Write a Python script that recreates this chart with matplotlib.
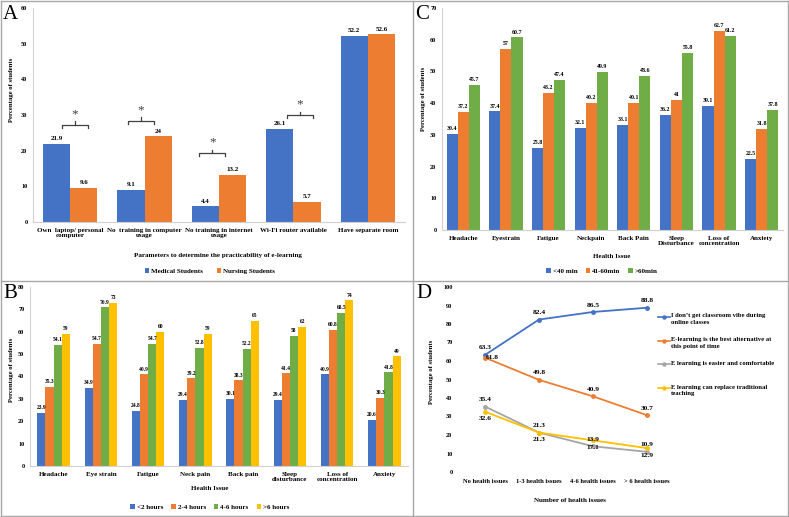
import matplotlib
matplotlib.use("Agg")
import matplotlib.pyplot as plt
from matplotlib.lines import Line2D
import numpy as np

plt.rcParams["font.family"] = ["Liberation Serif", "DejaVu Serif"]
plt.rcParams["font.weight"] = "bold"

BLUE = "#4472C4"
ORANGE = "#ED7D31"
GRAY = "#A5A5A5"
YELLOW = "#FFC000"
GREEN = "#70AD47"
AXIS = "#D0D0D0"

# Panel A
a_categories = ["Own  laptop/ personal\ncomputer", "No  training in computer\nusage",
                "No training in internet\nusage", "Wi-Fi router available", "Have separate room"]
a_medical = [21.9, 9.1, 4.4, 26.1, 52.2]
a_nursing = [9.6, 24, 13.2, 5.7, 52.6]

# Panel B
b_categories = ["Headache", "Eye strain", "Fatigue", "Neck pain", "Back pain",
                "Sleep\ndisturbance", "Loss of\nconcentration", "Anxiety"]
b_lt2 = [23.9, 34.9, 24.8, 29.4, 30.1, 29.4, 40.9, 20.6]
b_2to4 = [35.3, 54.7, 40.9, 39.2, 38.3, 41.4, 60.8, 30.3]
b_4to6 = [54.1, 70.9, 54.7, 52.8, 52.2, 58, 68.5, 41.8]
b_gt6 = [59, 73, 60, 59, 65, 62, 74, 49]

# Panel C
c_categories = ["Headache", "Eyestrain", "Fatigue", "Neckpain", "Back Pain",
                "Sleep\nDisturbance", "Loss of\nconcentration", "Anxiety"]
c_lt40 = [30.4, 37.4, 25.8, 32.1, 33.1, 36.2, 39.1, 22.5]
c_41to60 = [37.2, 57, 43.2, 40.2, 40.1, 41, 62.7, 31.8]
c_gt60 = [45.7, 60.7, 47.4, 49.9, 48.6, 55.8, 61.2, 37.8]

# Panel D
d_categories = ["No health issues", "1-3 health issues", "4-6 health issues", "> 6 health issues"]
d_vibe = [63.3, 82.4, 86.5, 88.8]
d_best = [61.8, 49.8, 40.9, 30.7]
d_easier = [35.4, 21.3, 13.9, 10.9]
d_replace = [32.6, 21.3, 17.1, 12.9]

W, H = 789, 517
fig = plt.figure(figsize=(W / 100, H / 100), dpi=100)


def px_axes(left, top, right, bottom):
    return fig.add_axes([left / W, 1 - bottom / H, (right - left) / W, (bottom - top) / H])


def fx(x):
    return x / W


def fy(y):
    return 1 - y / H


def style_bar_axes(ax, ymax, step):
    ax.set_ylim(0, ymax)
    ax.set_yticks(np.arange(0, ymax + 1, step))
    for s in ("top", "right"):
        ax.spines[s].set_visible(False)
    for s in ("left", "bottom"):
        ax.spines[s].set_color(AXIS)
        ax.spines[s].set_linewidth(0.8)
    ax.tick_params(length=0, labelsize=4.5, pad=4)
    ax.tick_params(axis="x", labelsize=5, pad=4)


def bar_group(ax, series, colors, labels, width, fs):
    n = len(series)
    x = np.arange(len(series[0]))
    for i, (vals, col, lab) in enumerate(zip(series, colors, labels)):
        off = (i - (n - 1) / 2) * width
        bars = ax.bar(x + off, vals, width=width, color=col, label=lab)
        for b, v in zip(bars, vals):
            ax.annotate(f"{v:g}", (b.get_x() + b.get_width() / 2, v), xytext=(0, 2),
                        textcoords="offset points", ha="center", va="bottom",
                        fontsize=fs, fontweight="bold")
    ax.set_xlim(-0.5, len(x) - 0.5)
    return x


# ---- Panel A
ax_a = px_axes(33, 8, 405, 222)
xa = bar_group(ax_a, [a_medical, a_nursing], [BLUE, ORANGE],
               ["Medical Students", "Nursing Students"], 0.365, 5)
style_bar_axes(ax_a, 60, 10)
ax_a.set_xticks(xa, a_categories, linespacing=1.1)

# significance brackets (group, centre offset, height)
brackets = [(0, 0.06, 27.3), (1, -0.05, 28.4), (2, -0.09, 19.4), (3, 0.09, 30.0)]
for g, off, h in brackets:
    cx = g + off
    hw = 0.175
    ax_a.plot([cx - hw, cx - hw, cx + hw, cx + hw], [h - 0.9, h, h, h - 0.9], color="#404040", lw=0.9)
    ax_a.plot([cx, cx], [h, h + 0.9], color="#404040", lw=0.9)
    ax_a.text(cx, h + 1.3, "*", ha="center", va="bottom", fontsize=9.5, fontweight="normal", color="#404040")

fig.text(fx(12), fy(90), "Percentage of students", rotation=90, ha="center", va="center", fontsize=4.8)
fig.text(fx(218), fy(255), "Parameters to determine the practicability of e-learning",
         ha="center", va="center", fontsize=5)
fig.legend(*ax_a.get_legend_handles_labels(), loc="center", bbox_to_anchor=(fx(210), fy(271)),
           ncols=2, frameon=False, fontsize=5, handlelength=0.6, handleheight=0.6,
           handletextpad=0.3, columnspacing=2.0)

# ---- Panel B
ax_b = px_axes(30, 287, 408, 466)
xb = bar_group(ax_b, [b_lt2, b_2to4, b_4to6, b_gt6], [BLUE, ORANGE, GREEN, YELLOW],
               ["<2 hours", "2-4 hours", "4-6 hours", ">6 hours"], 0.173, 4)
style_bar_axes(ax_b, 80, 10)
ax_b.set_xticks(xb, b_categories, linespacing=1.1)
fig.text(fx(11.5), fy(370), "Percentage of students", rotation=90, ha="center", va="center", fontsize=4.8)
fig.text(fx(210), fy(489), "Health Issue", ha="center", va="center", fontsize=5)
fig.legend(*ax_b.get_legend_handles_labels(), loc="center", bbox_to_anchor=(fx(210), fy(507)),
           ncols=4, frameon=False, fontsize=5, handlelength=0.6, handleheight=0.6,
           handletextpad=0.3, columnspacing=1.2)

# ---- Panel C
ax_c = px_axes(442, 8, 783, 230)
xc = bar_group(ax_c, [c_lt40, c_41to60, c_gt60], [BLUE, ORANGE, GREEN],
               ["<40 min", "41-60min", ">60min"], 0.26, 4.2)
style_bar_axes(ax_c, 70, 10)
ax_c.set_xticks(xc, c_categories, linespacing=1.1)
fig.text(fx(423), fy(99), "Percentage of students", rotation=90, ha="center", va="center", fontsize=4.8)
fig.text(fx(612), fy(256), "Health Issue", ha="center", va="center", fontsize=5)
fig.legend(*ax_c.get_legend_handles_labels(), loc="center", bbox_to_anchor=(fx(602), fy(271)),
           ncols=3, frameon=False, fontsize=5, handlelength=0.6, handleheight=0.6,
           handletextpad=0.3, columnspacing=1.2)

# ---- Panel D
ax_d = px_axes(458, 287, 674, 472)
xd = np.arange(len(d_categories))
d_series = [d_vibe, d_best, d_easier, d_replace]
d_colors = [BLUE, ORANGE, GRAY, YELLOW]
d_labels = ["I don\u2019t get classroom vibe during\nonline classes",
            "E-learning is the best alternative at\nthis point of time",
            "E learning is easier and comfortable",
            "E learning can replace traditional\nteaching"]
d_offsets = [[(0, 5)] * 4, [(5, 0), (0, 5), (0, 5), (0, 5)], [(0, 5)] * 4, [(0, -5)] * 4]
for vals, col, offs in zip(d_series, d_colors, d_offsets):
    ax_d.plot(xd, vals, color=col, lw=1.3, marker="o", markersize=2.5)
    for xi, v, (dx, dy) in zip(xd, vals, offs):
        ax_d.annotate(f"{v:g}", (xi, v), xytext=(dx, dy), textcoords="offset points",
                      ha="center", va="center", fontsize=5.3, fontweight="bold")
ax_d.set_xlim(-0.5, len(xd) - 0.5)
ax_d.set_ylim(0, 100)
ax_d.set_yticks(np.arange(0, 101, 10))
ax_d.set_xticks(xd, d_categories)
for s in ax_d.spines.values():
    s.set_visible(False)
ax_d.tick_params(length=0, labelsize=4.5, pad=4)
ax_d.tick_params(axis="x", labelsize=4.7, pad=5)
fig.text(fx(432), fy(372), "Percentage of students", rotation=90, ha="center", va="center", fontsize=4.8)
fig.text(fx(570), fy(501), "Number of health issues", ha="center", va="center", fontsize=5)

for i, (col, lab) in enumerate(zip(d_colors, d_labels)):
    yy = 317 + i * 23.7
    fig.add_artist(Line2D([fx(658), fx(670)], [fy(yy), fy(yy)], color=col, lw=1.2,
                          transform=fig.transFigure))
    fig.add_artist(Line2D([fx(664)], [fy(yy)], color=col, marker="o", markersize=2.2,
                          transform=fig.transFigure))
    fig.text(fx(671), fy(yy - 3.5), lab, ha="left", va="top", fontsize=4.8, linespacing=1.4)

# panel letters
for txt, x, y in [("A", 3, 5), ("C", 415, 5), ("B", 3, 284), ("D", 416, 284)]:
    fig.text(fx(x), fy(y), txt, ha="left", va="top", fontsize=15, fontweight="normal")

# frame lines
bc = "#A8A8A8"
for xs, ys in [([1, 788], [1, 1]), ([1, 788], [516, 516]), ([1, 1], [1, 516]),
               ([788, 788], [1, 516]), ([1, 788], [281, 281]), ([413, 413], [1, 516])]:
    fig.add_artist(Line2D([fx(v) for v in xs], [fy(v) for v in ys], color=bc, lw=1,
                          transform=fig.transFigure))

fig.savefig("out.png", dpi=100)
